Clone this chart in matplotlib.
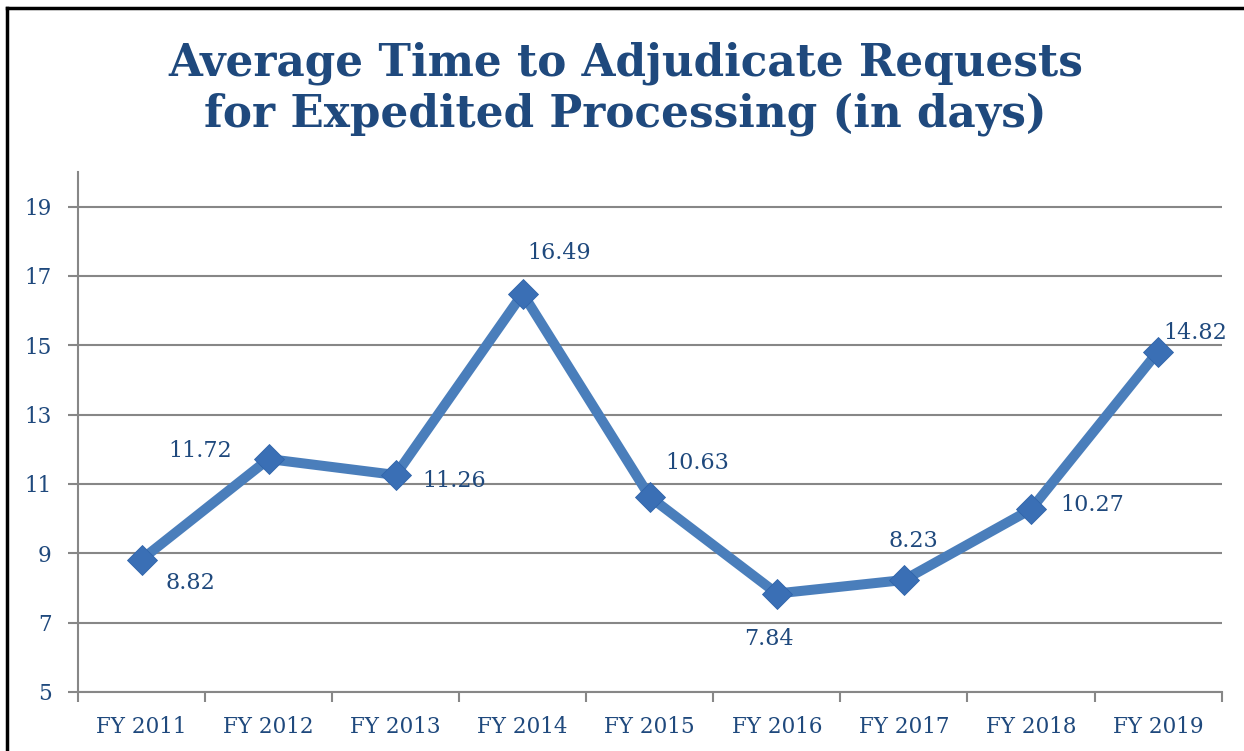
import matplotlib
matplotlib.use("Agg")
import matplotlib.pyplot as plt
from matplotlib.lines import Line2D

years = ["FY 2011", "FY 2012", "FY 2013", "FY 2014", "FY 2015",
         "FY 2016", "FY 2017", "FY 2018", "FY 2019"]
avg_days = [8.82, 11.72, 11.26, 16.49, 10.63, 7.84, 8.23, 10.27, 14.82]
y_ticks = [5, 7, 9, 11, 13, 15, 17, 19]

# where each value label sits relative to its point (points)
label_offsets = [(35, -17), (-49, 6), (42, -4), (26, 29), (34, 24),
                 (-6, -33), (7, 28), (44, 3), (27, 13)]

TEXT_BLUE = '#1F497D'
LINE_BLUE = '#4A7EBB'
GRID_GRAY = '#878787'

plt.rcParams['font.family'] = ['DejaVu Serif']

fig = plt.figure(figsize=(12.44, 7.51), dpi=100)
ax = fig.add_axes([0.0627, 0.0786, 0.9193, 0.6924])

x = list(range(len(years)))
ax.plot(x, avg_days, color=LINE_BLUE, linewidth=7.2, solid_joinstyle='miter', zorder=3)
ax.plot(x, avg_days, linestyle='None', marker='D', markersize=15,
        color='#3A6FB5', markeredgecolor='#2F64AA', markeredgewidth=0.6, zorder=4)

for xi, val, (dx, dy) in zip(x, avg_days, label_offsets):
    ax.annotate(f'{val:.2f}', (xi, val), xytext=(dx, dy), textcoords='offset points',
                ha='center', va='center', fontsize=16, color=TEXT_BLUE, zorder=5)

ax.set_xlim(-0.5, len(years) - 0.5)
ax.set_ylim(5, 20)
ax.set_yticks(y_ticks)
ax.set_yticklabels([str(t) for t in y_ticks])
ax.set_xticks(x)
ax.set_xticklabels(years)
ax.set_xticks([i - 0.5 for i in range(len(years) + 1)], minor=True)

ax.tick_params(axis='x', which='major', length=0, pad=17, labelsize=15.5, labelcolor=TEXT_BLUE)
ax.tick_params(axis='x', which='minor', length=7, width=1.5, color=GRID_GRAY, direction='out')
ax.tick_params(axis='y', which='major', length=7, width=1.5, color=GRID_GRAY, pad=12,
               labelsize=15.5, labelcolor=TEXT_BLUE)

ax.grid(axis='y', color=GRID_GRAY, linewidth=1.5, zorder=0)
for side in ('top', 'right'):
    ax.spines[side].set_visible(False)
for side in ('left', 'bottom'):
    ax.spines[side].set_color(GRID_GRAY)
    ax.spines[side].set_linewidth(1.5)

fig.text(0.503, 0.882, 'Average Time to Adjudicate Requests\nfor Expedited Processing (in days)',
         ha='center', va='center', fontsize=31.5, fontweight='bold', color=TEXT_BLUE,
         linespacing=1.2)

# frame around the slide (left and top edges only visible)
fig.add_artist(Line2D([0.0056, 0.0056], [0, 0.9893], transform=fig.transFigure,
                      color='black', linewidth=2.5))
fig.add_artist(Line2D([0.0056, 1.0], [0.9893, 0.9893], transform=fig.transFigure,
                      color='black', linewidth=2.5))

fig.savefig('out.png', dpi=100)
